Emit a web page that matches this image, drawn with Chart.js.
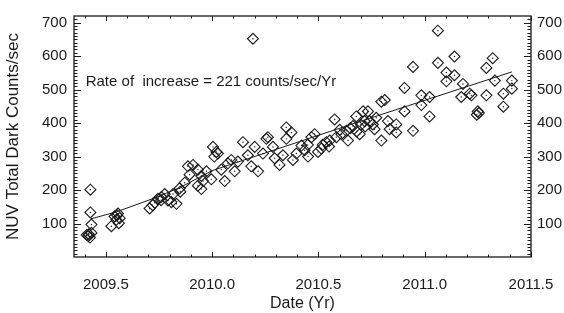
<!DOCTYPE html>
<html>
<head>
<meta charset="utf-8">
<script src="https://cdn.jsdelivr.net/npm/chart.js@4.4.1/dist/chart.umd.min.js"></script>
<style>
  body { margin: 0; background: #fff; }
  canvas { display: block; }
</style>
</head>
<body>
<canvas id="darkChart" width="564" height="313"></canvas>
<script>
// observation dates (decimal year) and measured NUV dark counts
const dates = [
  2009.427, 2009.427, 2009.432, 2009.418, 2009.425, 2009.410, 2009.432, 2009.420,
  2009.526, 2009.557, 2009.565, 2009.549, 2009.561, 2009.541, 2009.553,
  2009.706, 2009.730, 2009.745, 2009.761, 2009.777, 2009.792, 2009.808, 2009.832,
  2009.816, 2009.847, 2009.871, 2009.886, 2009.910, 2009.933, 2009.894, 2009.949,
  2009.957, 2009.973, 2009.996, 2010.004, 2010.020, 2010.010, 2009.933, 2009.949,
  2009.720, 2009.760, 2009.850,
  2010.027, 2010.043, 2010.059, 2010.074, 2010.090, 2010.106, 2010.121, 2010.145,
  2010.168, 2010.184, 2010.200, 2010.216, 2010.239, 2010.255, 2010.262, 2010.286,
  2010.294, 2010.317, 2010.333, 2010.349, 2010.373, 2010.349, 2010.380, 2010.396,
  2010.420, 2010.435, 2010.451, 2010.467, 2010.482, 2010.498, 2010.514, 2010.537,
  2010.553, 2010.576, 2010.584, 2010.608, 2010.631, 2010.639, 2010.662, 2010.678,
  2010.694, 2010.710, 2010.600, 2010.650, 2010.700, 2010.720, 2010.680, 2010.550,
  2010.520, 2010.450,
  2011.062, 2011.140, 2011.062, 2010.945, 2011.102, 2011.140, 2011.102, 2011.290,
  2011.320, 2010.905, 2011.180, 2011.172, 2011.212, 2011.220, 2011.290, 2010.984,
  2011.023, 2010.984, 2011.250, 2011.255, 2011.245, 2010.905, 2011.023, 2010.945,
  2010.796, 2010.796, 2010.812, 2010.733, 2010.866, 2010.866, 2010.835, 2010.827,
  2010.772, 2010.756, 2010.717, 2010.740, 2010.764,
  2011.330, 2011.410, 2011.370, 2011.410, 2011.370, 2010.192
];
const counts = [
  201, 133, 97, 63, 58, 66, 72, 68,
  92, 130, 116, 111, 101, 121, 125,
  145, 162, 174, 179, 188, 169, 164, 159,
  188, 205, 222, 271, 275, 261, 246, 242,
  227, 256, 232, 329, 314, 300, 213, 203,
  155, 170, 195,
  309, 261, 227, 280, 290, 256, 285, 343,
  304, 271, 329, 256, 309, 353, 358, 329,
  295, 275, 304, 387, 372, 353, 290, 309,
  333, 319, 300, 358, 367, 314, 324, 343,
  348, 411, 358, 367, 377, 348, 391, 420,
  367, 435, 380, 385, 395, 390, 375, 330,
  335, 335,
  676, 599, 580, 568, 551, 543, 525, 565,
  594, 505, 517, 478, 488, 483, 483, 483,
  478, 454, 435, 430, 425, 435, 420, 377,
  348, 464, 469, 435, 396, 372, 382, 406,
  416, 396, 406, 406, 382,
  527, 527, 488, 503, 449, 652
];
// fitted trend line
const fitDates = [2009.43, 2009.55, 2009.72, 2009.85, 2010.0, 2010.72, 2011.41];
const fitCounts = [114, 135, 174, 208, 258, 410, 553];

const xTicks = [2009.5, 2010.0, 2010.5, 2011.0, 2011.5];
const yTicks = [100, 200, 300, 400, 500, 600, 700];
const rateText = "Rate of  increase = 221 counts/sec/Yr";

const points = dates.map((d, i) => ({x: d, y: counts[i]}));
const fitLine = fitDates.map((d, i) => ({x: d, y: fitCounts[i]}));

const FONT = "'Liberation Sans', Arial, Helvetica, sans-serif";
const INK = "#1a1a1a";

//draws the IDL style box, inward ticks and the rate label
const boxPlugin = {
  id: "idlBox",
  afterDraw(chart) {
    const c = chart.ctx;
    const a = chart.chartArea;
    const xs = chart.scales.x;
    const ys = chart.scales.y;
    c.save();
    c.strokeStyle = INK;
    c.lineWidth = 1.3;
    c.strokeRect(a.left, a.top, a.right - a.left, a.bottom - a.top);
    c.lineWidth = 1;
    c.beginPath();
    for (let v = 10; v < 720; v += 10) {
      const py = Math.round(ys.getPixelForValue(v)) + 0.5;
      const len = v % 100 === 0 ? 7 : 3.5;
      c.moveTo(a.left, py); c.lineTo(a.left + len, py);
      c.moveTo(a.right, py); c.lineTo(a.right - len, py);
    }
    for (let k = 2009.4; k < 2011.5; k += 0.1) {
      const v = Math.round(k * 10) / 10;
      const px = Math.round(xs.getPixelForValue(v)) + 0.5;
      const len = Math.round(v * 10) % 5 === 0 ? 5 : 2.5;
      c.moveTo(px, a.bottom); c.lineTo(px, a.bottom - len);
      c.moveTo(px, a.top); c.lineTo(px, a.top + len);
    }
    c.stroke();

    c.fillStyle = INK;
    c.font = "15px " + FONT;
    c.textBaseline = "middle";
    c.textAlign = "left";
    c.fillText(rateText, xs.getPixelForValue(2009.405), ys.getPixelForValue(524));
    c.restore();
  }
};

const tickFont = {family: FONT, size: 15};
const noGrid = {display: false, drawTicks: false};

new Chart(document.getElementById("darkChart"), {
  type: "scatter",
  data: {
    datasets: [
      {
        data: fitLine,
        showLine: true,
        borderColor: INK,
        borderWidth: 1,
        pointRadius: 0
      },
      {
        data: points,
        pointStyle: "rectRot",
        pointRadius: 5.5,
        borderColor: INK,
        borderWidth: 1.1,
        backgroundColor: "rgba(0,0,0,0)"
      },
      {
        data: points,
        pointStyle: "circle",
        pointRadius: 0.7,
        borderWidth: 0,
        backgroundColor: INK
      }
    ]
  },
  options: {
    responsive: false,
    animation: false,
    layout: {padding: {top: 8, left: 0, right: 0, bottom: 0}},
    plugins: {legend: {display: false}, tooltip: {enabled: false}},
    scales: {
      x: {
        type: "linear",
        min: 2009.35,
        max: 2011.5,
        afterBuildTicks: s => { s.ticks = xTicks.map(v => ({value: v})); },
        afterFit: s => { s.height = 56; s.paddingLeft = 0; s.paddingRight = 0; },
        grid: noGrid,
        border: {display: false},
        ticks: {
          color: INK, font: tickFont, padding: 19, maxRotation: 0, autoSkip: false,
          callback: v => Number(v).toFixed(1)
        },
        title: {display: true, text: "Date (Yr)", color: INK, font: {family: FONT, size: 16}, padding: {top: 0, bottom: 0}}
      },
      y: {
        position: "left",
        min: 0,
        max: 720,
        afterBuildTicks: s => { s.ticks = yTicks.map(v => ({value: v})); },
        afterFit: s => { s.width = 74; },
        grid: noGrid,
        border: {display: false},
        ticks: {color: INK, font: tickFont, padding: 7},
        title: {display: true, text: "NUV Total Dark Counts/sec", color: INK, font: {family: FONT, size: 17}, padding: {top: 3, bottom: 0}}
      },
      y2: {
        position: "right",
        min: 0,
        max: 720,
        afterBuildTicks: s => { s.ticks = yTicks.map(v => ({value: v})); },
        afterFit: s => { s.width = 33; },
        grid: noGrid,
        border: {display: false},
        ticks: {color: INK, font: tickFont, padding: 6}
      }
    }
  },
  plugins: [boxPlugin]
});
</script>
</body>
</html>
